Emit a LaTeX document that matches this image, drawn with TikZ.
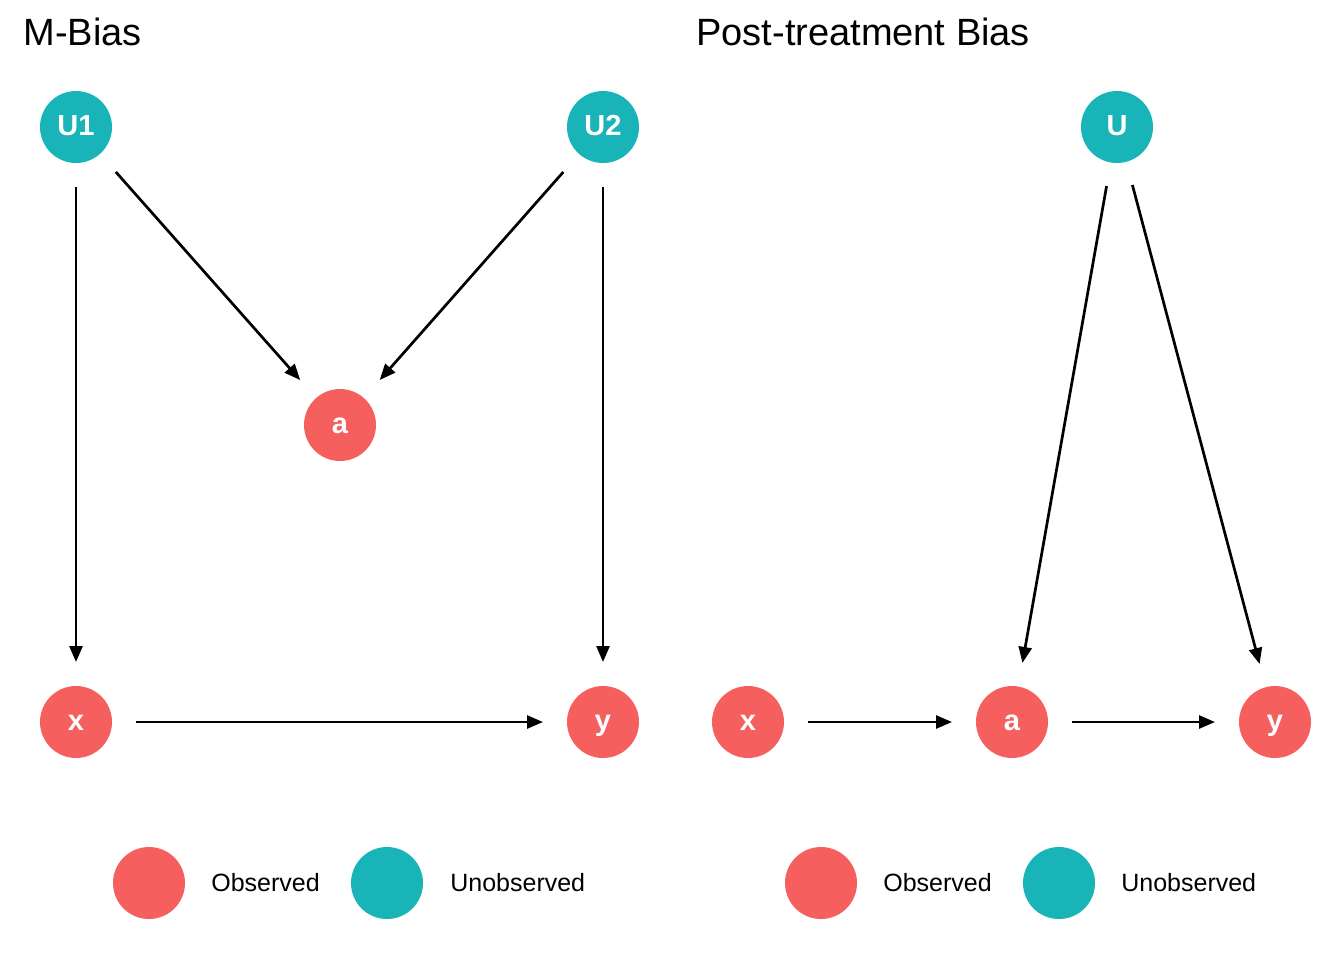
\documentclass[tikz,border=0pt]{standalone}
\usepackage{fontspec}
\setmainfont{Liberation Sans}
\usetikzlibrary{arrows.meta}
\definecolor{obscol}{HTML}{F5605E}
\definecolor{unobscol}{HTML}{19B4B7}

\begin{document}
\begin{tikzpicture}
  [x=0.5pt,y=-0.5pt,
   obs/.style={circle,fill=obscol,text=white,minimum size=36pt,inner sep=0pt,outer sep=12pt,text height=1.6ex,text depth=0pt,font=\fontsize{14.5pt}{16pt}\selectfont\bfseries},
   unobs/.style={obs,fill=unobscol},
   keydot/.style={circle,minimum size=36pt,inner sep=0pt},
   keytext/.style={anchor=west,inner sep=0pt,font=\fontsize{12.5pt}{14pt}\selectfont},
   heading/.style={anchor=west,inner sep=0pt,font=\fontsize{19pt}{22pt}\selectfont},
   every path/.style={line width=1.35pt,-{Triangle[length=8pt,width=6.5pt]}}]

  \useasboundingbox (0,0) rectangle (1344,960);

  % M-Bias
  \node[heading] (t1) at (22,32) {M-Bias};
  \node[unobs] (u1) at (76,127) {U1};
  \node[unobs] (u2) at (603,127) {U2};
  \node[obs] (a1) at (340,425) {a};
  \node[obs] (x1) at (76,722) {x};
  \node[obs] (y1) at (603,722) {y};

  \draw (u1) -- (x1);
  \draw (u1) -- (a1);
  \draw (u2) -- (a1);
  \draw (u2) -- (y1);
  \draw (x1) -- (y1);

  % Post-treatment Bias
  \node[heading] (t2) at (695,32) {Post-treatment Bias};
  \node[unobs] (u3) at (1117,127) {U};
  \node[obs] (x2) at (748,722) {x};
  \node[obs] (a2) at (1012,722) {a};
  \node[obs] (y2) at (1275,722) {y};

  \draw (u3) -- (a2);
  \draw (u3) -- (y2);
  \draw (x2) -- (a2);
  \draw (a2) -- (y2);

  % legends
  \node[keydot,fill=obscol] (k1) at (149,883) {};
  \node[keytext] (k1t) at (210,883) {Observed};
  \node[keydot,fill=unobscol] (k2) at (387,883) {};
  \node[keytext] (k2t) at (449,883) {Unobserved};
  \node[keydot,fill=obscol] (k3) at (821,883) {};
  \node[keytext] (k3t) at (882,883) {Observed};
  \node[keydot,fill=unobscol] (k4) at (1059,883) {};
  \node[keytext] (k4t) at (1120,883) {Unobserved};

\end{tikzpicture}
\end{document}
